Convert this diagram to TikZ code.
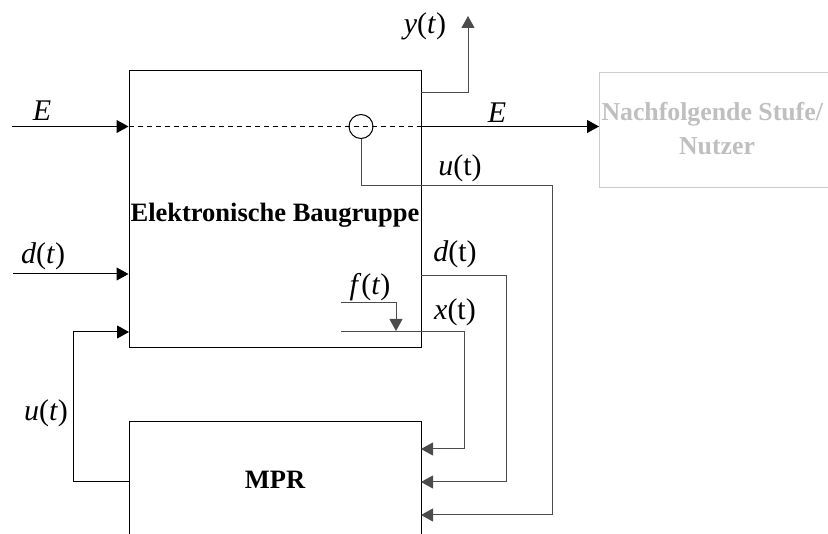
\documentclass[tikz,border=0pt]{standalone}
\usepackage{fontspec}
\setmainfont{Liberation Serif}
\usetikzlibrary{arrows.meta}
\begin{document}
\begin{tikzpicture}[x=1pt,y=-1pt, line width=1pt,
  tri/.style={-{Triangle[length=12pt,width=13pt]}},
  lbl/.style={font=\fontsize{30}{36}\selectfont, inner sep=0pt, anchor=base},
  boldtext/.style={font=\fontsize{26.5}{34}\selectfont\bfseries, inner sep=0pt},
  greytext/.style={font=\fontsize{25.8}{34}\selectfont\bfseries, inner sep=0pt, text=black!25},
  fb/.style={draw=black!70},
  dashline/.style={dash pattern=on 5pt off 4pt}]
\useasboundingbox (0,0) rectangle (828,534);
% main block
\node[draw, minimum width=292pt, minimum height=277pt, inner sep=0pt] (eb) at (275,209.5) {};
\node[boldtext, anchor=base] (ebl) at (275,222) {Elektronische Baugruppe};
% MPR block (cut at bottom)
\coordinate (mprTL) at (129,422);
\coordinate (mprTR) at (421,422);
\draw (129,540) -- (mprTL) -- (mprTR) -- (421,540);
\node[boldtext, anchor=base] (mpr) at (275,489) {MPR};
% following stage
\draw[draw=black!20] (840,73) -- (599,73) -- (599,188) -- (840,188);
\node[greytext, anchor=base west] (nf1) at (601,121) {Nachfolgende Stufe/};
\node[greytext, anchor=base] (nf2) at (717,155) {Nutzer};
\coordinate (nfW) at (599,126.5);
% E path
\coordinate (ein) at (12,126.5);
\draw[tri] (ein) -- (eb.west |- ein);
\draw[dashline] (eb.west |- ein) -- (eb.east |- ein);
\node[draw, circle, minimum size=24pt, inner sep=0pt] (c) at (361,126.5) {};
\draw[tri] (eb.east |- ein) -- (nfW);
\node[lbl] (lE1) at (42,121) {\textit{E}};
\node[lbl] (lE2) at (497,123) {\textit{E}};
% y(t)
\coordinate (yo) at (421,92.7);
\coordinate (ytip) at (468,16);
\draw[tri, fb] (yo) -- (ytip |- yo) -- (ytip);
\node[lbl] (ly) at (425,34) {\textit{y}(\textit{t})};
% u(t) feedback from circle
\coordinate (uin) at (421,515);
\draw[tri, fb] (c.south) -- (361,186) -- (552,186) -- (552,515) -- (uin);
\node[lbl] (lu) at (460,176) {\textit{u}(t)};
% d(t) right
\coordinate (dout) at (421,276);
\coordinate (din) at (421,482);
\draw[tri, fb] (dout) -- (506,276) -- (506,482) -- (din);
\node[lbl] (ld2) at (455,262) {\textit{d}(t)};
% x(t)
\coordinate (xs) at (341,332);
\coordinate (xin) at (421,449);
\draw[tri, fb] (xs) -- (464,332) -- (464,449) -- (xin);
\node[lbl] (lx) at (455,320) {\textit{x}(t)};
% f(t)
\coordinate (fs) at (341,303);
\coordinate (ft) at (396,331);
\draw[tri, fb] (fs) -- (ft |- fs) -- (ft);
\node[lbl] (lf) at (370,295) {\textit{f}(\textit{t})};
% d(t) left
\coordinate (dl) at (13,274);
\draw[tri] (dl) -- (eb.west |- dl);
\node[lbl] (ld1) at (43,264) {\textit{d}(\textit{t})};
% u(t) left
\coordinate (ul) at (129,332);
\draw[tri] (129,482) -- (73,482) -- (73,332) -- (ul);
\node[lbl] (lu2) at (46,421) {\textit{u}(\textit{t})};
\end{tikzpicture}
\end{document}
